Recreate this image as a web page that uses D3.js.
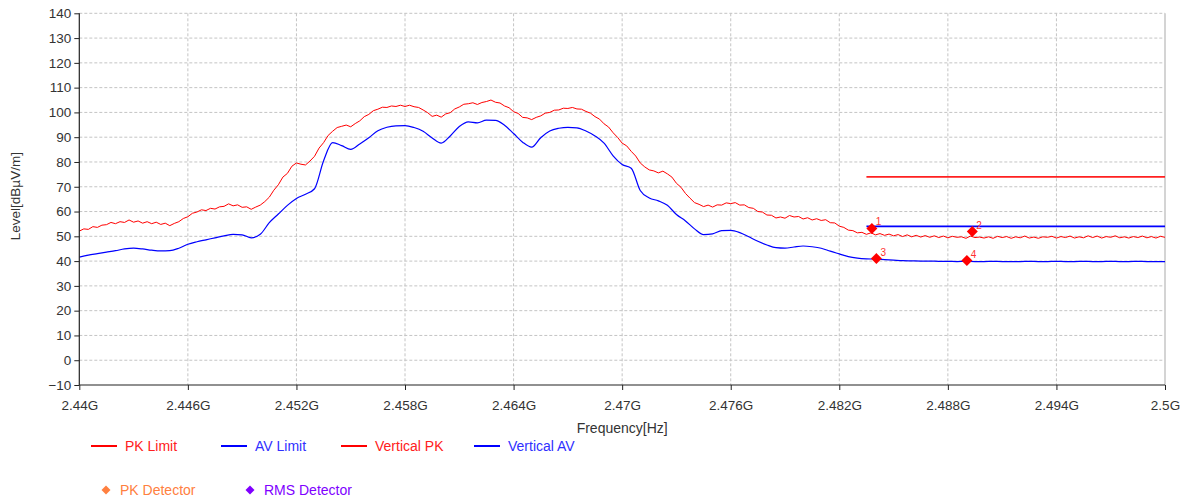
<!DOCTYPE html>
<html>
<head>
<meta charset="utf-8">
<script src="https://cdn.jsdelivr.net/npm/d3@7"></script>
<style>
body { margin: 0; background: #fff; }
text { font-family: "Liberation Sans", Arial, sans-serif; }
</style>
</head>
<body>
<script>
var svgWidth = 1187;
var svgHeight = 502;

var margin = {top: 13.3, right: 22, bottom: 117, left: 79.3};

var width = svgWidth - margin.left - margin.right;
var height = svgHeight - margin.top - margin.bottom;

// sweep (MHz)
var sweepStart = 2440, sweepStop = 2500;
var pkStep = 0.25, avStep = 0.5;

// Vertical PK trace, one value every 0.25 MHz from 2440 MHz
var pkValues = [
  52.1,53.0,52.8,53.9,53.6,54.5,54.7,55.6,
  55.1,55.9,55.6,56.6,55.7,56.2,55.3,55.9,
  55.1,55.7,54.8,55.3,54.3,55.2,55.9,57.2,
  57.9,59.3,59.8,60.7,60.4,61.3,61.0,61.9,
  62.1,63.1,62.3,62.7,61.7,61.9,60.9,61.8,
  62.6,64.0,65.8,68.6,70.8,73.9,75.4,78.3,
  79.6,79.1,78.8,80.4,82.3,85.6,87.8,90.7,
  92.4,93.9,94.4,94.9,94.2,95.5,96.6,98.3,
  99.2,100.7,101.3,102.1,102.0,102.6,102.4,102.9,
  102.4,102.9,102.3,102.0,101.0,99.9,98.4,98.9,
  98.1,99.4,99.9,101.4,102.2,103.3,103.5,103.9,
  103.2,104.0,104.4,105.0,104.1,103.8,102.6,101.9,
  100.3,99.6,98.0,97.8,97.1,98.0,98.6,99.7,
  100.0,100.9,101.0,101.7,101.6,102.0,101.4,101.3,
  100.4,99.7,98.3,97.3,95.4,94.1,91.8,89.9,
  87.6,86.5,84.3,82.4,79.6,78.0,76.8,76.4,
  75.6,76.3,75.2,73.9,71.4,69.8,67.3,65.4,
  63.6,62.9,62.0,62.6,61.8,62.7,62.6,63.5,
  63.2,63.6,62.6,62.7,61.6,61.3,60.0,59.8,
  58.6,58.5,57.4,57.8,57.3,58.4,57.8,58.0,
  57.0,57.5,56.6,57.1,56.4,56.7,55.5,55.4,
  54.1,53.6,52.5,52.3,51.4,51.6,50.8,51.4,
  50.6,51.1,50.4,50.9,50.2,50.7,49.9,50.6,
  49.8,50.4,49.7,50.3,49.6,50.2,49.5,50.1,
  49.4,50.0,49.6,49.8,49.2,50.1,49.5,49.7,
  49.3,49.8,49.2,50.0,49.5,49.9,49.2,49.8,
  49.4,50.1,49.3,49.7,49.2,49.8,49.6,50.0,
  49.3,49.9,49.5,50.1,49.3,49.8,49.4,50.2,
  49.5,50.1,49.3,49.9,49.6,50.2,49.4,49.8,
  49.3,49.9,49.5,50.1,49.4,49.9,49.3,50.0,
  49.6
];

// Vertical AV trace, one value every 0.5 MHz from 2440 MHz
var avValues = [
  41.6,42.4,43.0,43.6,44.2,44.9,45.2,44.9,
  44.4,44.1,44.2,45.2,46.8,47.8,48.6,49.4,
  50.2,50.8,50.6,49.4,50.8,55.5,59.0,62.5,
  65.3,67.0,69.2,80.5,87.8,86.6,85.1,87.3,
  89.8,92.6,94.0,94.6,94.7,93.9,92.4,89.7,
  87.6,90.5,94.3,96.2,95.8,96.9,96.8,94.8,
  91.5,88.0,86.0,89.8,92.5,93.6,94.0,93.8,
  92.5,90.5,87.6,82.5,79.0,77.5,68.5,65.5,
  64.3,62.5,58.8,56.2,53.0,50.7,51.0,52.3,
  52.4,51.5,49.8,48.0,46.5,45.4,45.2,45.7,
  46.1,45.8,45.2,44.0,42.9,41.8,41.2,40.9,
  40.8,40.6,40.4,40.2,40.1,40.0,40.0,39.9,
  39.9,39.8,39.9,39.8,39.8,39.9,39.8,39.8,
  39.8,39.9,39.8,39.8,39.9,39.8,39.8,39.9,
  39.8,39.8,39.9,39.8,39.8,39.9,39.8,39.8,
  39.8
];

// limits
var limitStart = 2483.5;
var pkLimit = 74;
var avLimit = 54;

// markers
var markerIds = ["1", "2", "3", "4"];
var markerFreqs = [2483.8, 2489.35, 2484.05, 2489.05];
var markerLevels = [53.2, 51.9, 41.0, 40.2];

// ticks
var xTicks = [2440, 2446, 2452, 2458, 2464, 2470, 2476, 2482, 2488, 2494, 2500];
var xTickLabels = ["2.44G", "2.446G", "2.452G", "2.458G", "2.464G", "2.47G",
                   "2.476G", "2.482G", "2.488G", "2.494G", "2.5G"];
var yTicks = [-10, 0, 10, 20, 30, 40, 50, 60, 70, 80, 90, 100, 110, 120, 130, 140];

var legendLines = ["PK Limit", "AV Limit", "Vertical PK", "Vertical AV"];
var legendLineColors = ["#ff0000", "#0000ff", "#ff0000", "#0000ff"];
var legendLineText = ["#ff2020", "#3030ff", "#ff2020", "#3030ff"];
var legendDetectors = ["PK Detector", "RMS Detector"];
var legendDetectorColors = ["#ff8040", "#8000ff"];

var svg = d3.select("body")
  .append("svg")
  .attr("width", svgWidth)
  .attr("height", svgHeight)
  .style("background", "#fff");

var xScale = d3.scaleLinear().domain([sweepStart, sweepStop]).range([0, width]);
var yScale = d3.scaleLinear().domain([-10, 140]).range([height, 0]);

var g = svg.append("g")
  .attr("transform", "translate(" + margin.left + "," + margin.top + ")");

// grid
g.append("g").selectAll("line").data(yTicks.slice(1)).join("line")
  .attr("x1", 0).attr("x2", width)
  .attr("y1", d => yScale(d)).attr("y2", d => yScale(d))
  .attr("stroke", "#c4c4c4").attr("stroke-dasharray", "3,2");
g.append("g").selectAll("line").data(xTicks.slice(1, -1)).join("line")
  .attr("x1", d => xScale(d)).attr("x2", d => xScale(d))
  .attr("y1", 0).attr("y2", height)
  .attr("stroke", "#c4c4c4").attr("stroke-dasharray", "3,2");
g.append("line")
  .attr("x1", width).attr("x2", width).attr("y1", 0).attr("y2", height)
  .attr("stroke", "#d4d4d4").attr("stroke-width", 2);

// traces
var pkData = pkValues.map((v, i) => [sweepStart + i * pkStep, v]);
var avData = avValues.map((v, i) => [sweepStart + i * avStep, v]);

var line = d3.line().x(d => xScale(d[0])).y(d => yScale(d[1]));

g.append("path").datum(pkData)
  .attr("d", line)
  .attr("fill", "none").attr("stroke", "#ff0000").attr("stroke-width", 1);

g.append("path").datum(avData)
  .attr("d", line.curve(d3.curveMonotoneX))
  .attr("fill", "none").attr("stroke", "#0000ff").attr("stroke-width", 1.2);

// limits
g.append("line")
  .attr("x1", xScale(limitStart)).attr("x2", xScale(sweepStop))
  .attr("y1", yScale(pkLimit)).attr("y2", yScale(pkLimit))
  .attr("stroke", "#ff2020").attr("stroke-width", 1.6);
g.append("line")
  .attr("x1", xScale(limitStart)).attr("x2", xScale(sweepStop))
  .attr("y1", yScale(avLimit)).attr("y2", yScale(avLimit))
  .attr("stroke", "#0000ff").attr("stroke-width", 1.6);

// markers
var diamond = "M0,-5.5L5.5,0L0,5.5L-5.5,0Z";
var mk = g.append("g").selectAll("g").data(markerIds).join("g")
  .attr("transform", (d, i) => "translate(" + xScale(markerFreqs[i]) + "," + yScale(markerLevels[i]) + ")");
mk.append("path").attr("d", diamond).attr("fill", "#ff0000");
mk.append("text").attr("x", 4).attr("y", -3)
  .attr("font-size", 10).attr("fill", "#ff3030").text(d => d);

// axes
var xAxis = d3.axisBottom(xScale).tickValues(xTicks)
  .tickFormat((d, i) => xTickLabels[i]).tickSize(5).tickPadding(10);
var yAxis = d3.axisLeft(yScale).tickValues(yTicks).tickSize(5).tickPadding(3);

var gX = g.append("g")
  .attr("transform", "translate(0," + height + ")")
  .call(xAxis);
var gY = g.append("g").call(yAxis);

[gX, gY].forEach(function(ax) {
  ax.select(".domain").attr("stroke", "#222").attr("stroke-width", 1.2);
  ax.selectAll(".tick line").attr("stroke", "#222");
  ax.selectAll(".tick text").attr("fill", "#333")
    .style("font-family", "'Liberation Sans', Arial, sans-serif").style("font-size", "13.5px");
});
gX.select(".domain").attr("d", "M0,0H" + width);
gY.select(".domain").attr("d", "M0," + height + "V0");

// axis titles
svg.append("text")
  .attr("x", margin.left + width / 2).attr("y", 433)
  .attr("text-anchor", "middle").attr("font-size", 14).attr("fill", "#333")
  .text("Frequency[Hz]");
svg.append("text")
  .attr("transform", "translate(20," + (margin.top + height / 2 - 3) + ") rotate(-90)")
  .attr("text-anchor", "middle").attr("font-size", 13.5).attr("fill", "#333")
  .text("Level[dBµV/m]");

// legend
var legendX = [91, 221, 341, 474];
var lg = svg.append("g").selectAll("g").data(legendLines).join("g")
  .attr("transform", (d, i) => "translate(" + legendX[i] + ",446)");
lg.append("line").attr("x1", 0).attr("x2", 26)
  .attr("stroke", (d, i) => legendLineColors[i]).attr("stroke-width", 2);
lg.append("text").attr("x", 34).attr("dy", "0.35em")
  .attr("font-size", 14).attr("fill", (d, i) => legendLineText[i]).text(d => d);

var detX = [106, 250];
var dg = svg.append("g").selectAll("g").data(legendDetectors).join("g")
  .attr("transform", (d, i) => "translate(" + detX[i] + ",490)");
dg.append("path").attr("d", "M0,-4.5L4.5,0L0,4.5L-4.5,0Z")
  .attr("fill", (d, i) => legendDetectorColors[i]);
dg.append("text").attr("x", 14).attr("dy", "0.35em")
  .attr("font-size", 14).attr("fill", (d, i) => legendDetectorColors[i]).text(d => d);
</script>
</body>
</html>
